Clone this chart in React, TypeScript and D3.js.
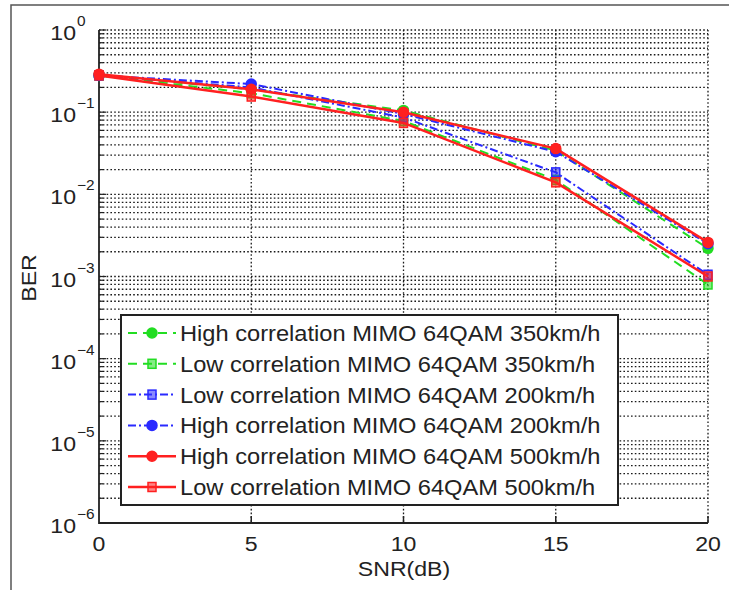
import React, { useRef, useEffect } from 'react'
import * as d3 from 'd3'

const snr = [0, 5, 10, 15, 20]
const highCorr350 = [0.28, 0.19, 0.105, 0.034, 0.0022]
const lowCorr350 = [0.28, 0.17, 0.078, 0.015, 0.0008]
const lowCorr200 = [0.28, 0.2, 0.086, 0.0185, 0.00105]
const highCorr200 = [0.28, 0.22, 0.095, 0.033, 0.0025]
const highCorr500 = [0.29, 0.19, 0.1, 0.036, 0.0026]
const lowCorr500 = [0.28, 0.155, 0.074, 0.014, 0.001]

const xTicks = [0, 5, 10, 15, 20]
const yExponents = [0, -1, -2, -3, -4, -5, -6]

const series = [
  { label: 'High correlation MIMO 64QAM 350km/h', values: highCorr350, color: '#22dd22', dash: '9 6', marker: 'circle', width: 2 },
  { label: 'Low correlation MIMO 64QAM 350km/h', values: lowCorr350, color: '#22dd22', dash: '9 6', marker: 'square', width: 2 },
  { label: 'Low correlation MIMO 64QAM 200km/h', values: lowCorr200, color: '#2a2aff', dash: '8 3 2 3', marker: 'square', width: 2 },
  { label: 'High correlation MIMO 64QAM 200km/h', values: highCorr200, color: '#2a2aff', dash: '8 3 2 3', marker: 'circle', width: 2 },
  { label: 'High correlation MIMO 64QAM 500km/h', values: highCorr500, color: '#ff2020', dash: null, marker: 'circle', width: 2.5 },
  { label: 'Low correlation MIMO 64QAM 500km/h', values: lowCorr500, color: '#ff2020', dash: null, marker: 'square', width: 2.5 },
]

const FONT = '"Liberation Sans", Arial, Helvetica, sans-serif'
const SX = 1.1 // the reference text looks a little wide

export default function App() {
  const svgRef = useRef<SVGSVGElement>(null)

  useEffect(() => {
    document.body.style.margin = '0'
    const svg = d3.select(svgRef.current)
    svg.selectAll('*').remove()

    const width = 729, height = 590
    const left = 99, right = 708, top = 30, bottom = 523

    svg.attr('width', width).attr('height', height)
    svg.append('rect').attr('width', width).attr('height', height).attr('fill', '#fff')

    // outer frame of the figure
    svg.append('path').attr('d', `M11,${height} L11,5 L${width},5`)
      .attr('fill', 'none').attr('stroke', '#555').attr('stroke-width', 1.5)

    const x = d3.scaleLinear().domain([0, 20]).range([left, right])
    const y = d3.scaleLog().domain([1e-6, 1]).range([bottom, top])

    const txt = (px: number, py: number, s: string, size: number, anchor: string) =>
      svg.append('text')
        .attr('transform', `translate(${px},${py}) scale(${SX},1)`)
        .attr('text-anchor', anchor).attr('font-family', FONT)
        .attr('font-size', size).attr('fill', '#222').text(s)

    // grid
    const grid = svg.append('g').attr('stroke', '#1a1a1a').attr('stroke-width', 1.3)
      .attr('stroke-dasharray', '1.6 2.2').attr('fill', 'none')
    const minor: number[] = []
    for (let e = -6; e < 0; e++) for (let m = 1; m <= 9; m++) minor.push(m * Math.pow(10, e))
    minor.push(1)
    minor.forEach(v => {
      grid.append('line').attr('x1', left).attr('x2', right).attr('y1', y(v)).attr('y2', y(v))
    })
    xTicks.slice(1).forEach(t => {
      grid.append('line').attr('x1', x(t)).attr('x2', x(t)).attr('y1', top).attr('y2', bottom)
    })

    // axes
    const ax = svg.append('g').attr('stroke', '#222').attr('fill', 'none')
    ax.append('path').attr('d', `M${left},${top} L${left},${bottom} L${right},${bottom}`).attr('stroke-width', 1.8)
    xTicks.slice(1).forEach(t => {
      ax.append('line').attr('x1', x(t)).attr('x2', x(t)).attr('y1', bottom).attr('y2', bottom - 7).attr('stroke-width', 1.5)
    })
    minor.forEach(v => {
      const major = Math.abs(Math.log10(v) - Math.round(Math.log10(v))) < 1e-9
      ax.append('line').attr('x1', left).attr('x2', left + (major ? 7 : 4))
        .attr('y1', y(v)).attr('y2', y(v)).attr('stroke-width', 1.2)
    })

    // tick labels
    xTicks.forEach(t => txt(x(t), 551, String(t), 21, 'middle'))
    yExponents.forEach(e => {
      const py = y(Math.pow(10, e))
      txt(76, py + 10, '10', 21, 'end')
      txt(77, py - 4, e < 0 ? '\u2212' + Math.abs(e) : String(e), 14, 'start')
    })

    // axis labels
    txt(404, 576, 'SNR(dB)', 21, 'middle')
    svg.append('text')
      .attr('transform', `translate(36,278) rotate(-90) scale(${SX},1)`)
      .attr('text-anchor', 'middle').attr('font-family', FONT)
      .attr('font-size', 21).attr('fill', '#222').text('BER')

    const drawMarker = (g: any, kind: string, cx: number, cy: number, color: string) => {
      if (kind === 'circle') {
        g.append('circle').attr('cx', cx).attr('cy', cy).attr('r', 5)
          .attr('fill', color).attr('stroke', color).attr('stroke-width', 1.5)
      } else {
        g.append('rect').attr('x', cx - 4).attr('y', cy - 4.5).attr('width', 8).attr('height', 9)
          .attr('fill', color).attr('fill-opacity', 0.55).attr('stroke', color).attr('stroke-width', 1.5)
      }
    }

    // series: green below, blue, red on top
    const line = d3.line<number>().x((_, i) => x(snr[i])).y(d => y(d))
    series.forEach(s => {
      const g = svg.append('g')
      g.append('path').attr('d', line(s.values))
        .attr('fill', 'none').attr('stroke', s.color).attr('stroke-width', s.width)
        .attr('stroke-dasharray', s.dash).attr('stroke-linejoin', 'round')
      s.values.forEach((v, i) => drawMarker(g, s.marker, x(snr[i]), y(v), s.color))
    })

    // legend
    const lg = svg.append('g')
    lg.append('rect').attr('x', 121).attr('y', 315).attr('width', 497).attr('height', 190)
      .attr('fill', '#fff').attr('stroke', '#222').attr('stroke-width', 2)
    series.forEach((s, i) => {
      const cy = 333 + i * 30.8
      lg.append('line').attr('x1', 128).attr('x2', 176).attr('y1', cy).attr('y2', cy)
        .attr('stroke', s.color).attr('stroke-width', s.width).attr('stroke-dasharray', s.dash)
      drawMarker(lg, s.marker, 152, cy, s.color)
      lg.append('text')
        .attr('transform', `translate(180,${cy + 8}) scale(${SX},1)`)
        .attr('font-family', FONT).attr('font-size', 21.5).attr('fill', '#222').text(s.label)
    })
  }, [])

  return <svg ref={svgRef} />
}
